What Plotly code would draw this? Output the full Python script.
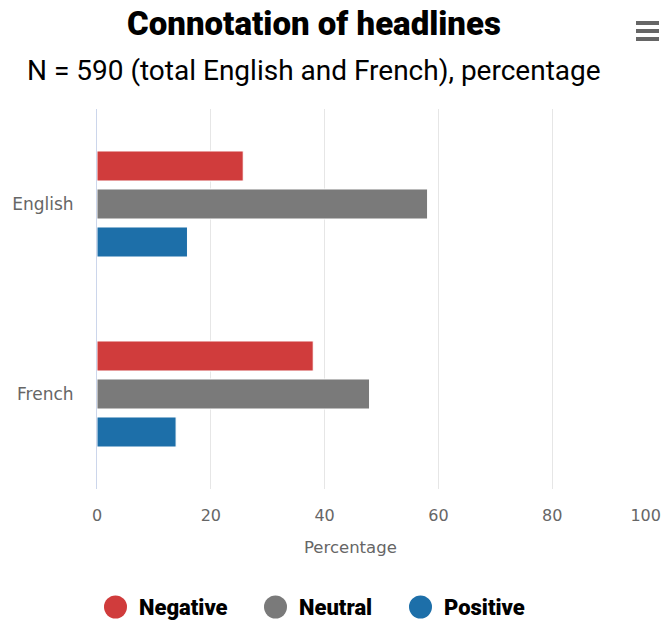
import plotly.graph_objects as go

# Headline connotation shares by language (percent of headlines)
languages = ["English", "French"]
negative = [25.7, 38.0]
neutral = [58.1, 47.9]
positive = [15.9, 13.9]

series_names = ["Negative", "Neutral", "Positive"]
series_values = [negative, neutral, positive]
series_colors = ["#d03c3c", "#7a7a7a", "#1d6fa9"]

x_ticks = [0, 20, 40, 60, 80, 100]
# last label padded so it sits left of the axis end
x_ticktext = ["0", "20", "40", "60", "80", "100" + "\u00a0" * 8]

W, H = 666, 620
M_L, M_R, M_T, M_B = 97, 0, 109, 131
PLOT_W = W - M_L - M_R
PLOT_H = H - M_T - M_B


def px_x(px):
    return (px - M_L) / PLOT_W


def px_y(py):
    return 1 + (M_T - py) / PLOT_H


fig = go.Figure()

for name, vals, col in zip(series_names, series_values, series_colors):
    fig.add_trace(go.Bar(
        y=languages, x=vals, name=name, orientation="h",
        marker=dict(color=col, line=dict(color="white", width=1)),
        showlegend=False,
        hovertemplate="%{y}<br>" + name + ": %{x}<extra></extra>",
    ))

axis_font = dict(family="DejaVu Sans, sans-serif", size=16, color="#666666")

# Legend row: round keys followed by bold series names
legend_keys_x = [115.5, 275.5, 420.5]
legend_y = 607
legend_r = 11.5
shapes = []
annotations = []
for name, col, cx in zip(series_names, series_colors, legend_keys_x):
    shapes.append(dict(
        type="circle", xref="paper", yref="paper",
        x0=px_x(cx - legend_r), x1=px_x(cx + legend_r),
        y0=px_y(legend_y + legend_r), y1=px_y(legend_y - legend_r),
        fillcolor=col, line=dict(width=0),
    ))
    annotations.append(dict(
        text=name, xref="paper", yref="paper",
        x=px_x(cx + 21), y=px_y(legend_y), xanchor="left", yanchor="middle",
        showarrow=False,
        font=dict(family="Roboto", size=22, color="#000000", weight=900),
    ))

# Export-menu glyph in the top-right corner
for yy in (23, 31, 39):
    shapes.append(dict(
        type="line", xref="paper", yref="paper",
        x0=px_x(636), x1=px_x(659), y0=px_y(yy), y1=px_y(yy),
        line=dict(color="#666666", width=4),
    ))

annotations.append(dict(
    text="N = 590 (total English and French), percentage",
    xref="paper", yref="paper", x=px_x(314), y=px_y(70),
    xanchor="center", yanchor="middle", showarrow=False,
    font=dict(family="Roboto", size=28, color="#000000"),
))

# Axis title, centred under the visible part of the axis
annotations.append(dict(
    text="Percentage", xref="paper", yref="paper",
    x=px_x(350), y=px_y(547), xanchor="center", yanchor="middle",
    showarrow=False, font=axis_font | dict(size=16.5),
))

fig.update_layout(
    width=W, height=H,
    margin=dict(l=M_L, r=M_R, t=M_T, b=M_B, autoexpand=False),
    paper_bgcolor="white", plot_bgcolor="white",
    barmode="group", bargap=0.4, bargroupgap=0.21,
    showlegend=False,
    title=dict(
        text="Connotation of headlines",
        font=dict(family="Roboto", size=33, color="#000000", weight=900),
        x=314 / W, xref="container", xanchor="center",
        y=1 - 23 / H, yref="container", yanchor="middle",
    ),
    xaxis=dict(
        range=[0, 100], tickvals=x_ticks, ticktext=x_ticktext,
        showgrid=True, gridcolor="#e6e6e6", gridwidth=1,
        zeroline=False, showline=False, ticks="",
        tickfont=axis_font, ticklabelstandoff=15,
        ticklabeloverflow="allow", automargin=False,
        fixedrange=True,
    ),
    yaxis=dict(
        autorange="reversed", showgrid=False, zeroline=False,
        showline=True, linecolor="#ccd6eb", linewidth=1, ticks="",
        tickfont=axis_font | dict(size=17), ticklabelstandoff=19,
        automargin=False, fixedrange=True,
    ),
    shapes=shapes,
    annotations=annotations,
)

fig.write_html(
    "out.html",
    config={"displayModeBar": False},
    post_script="document.documentElement.style.overflow='hidden';"
                "document.body.style.overflow='hidden';",
)
